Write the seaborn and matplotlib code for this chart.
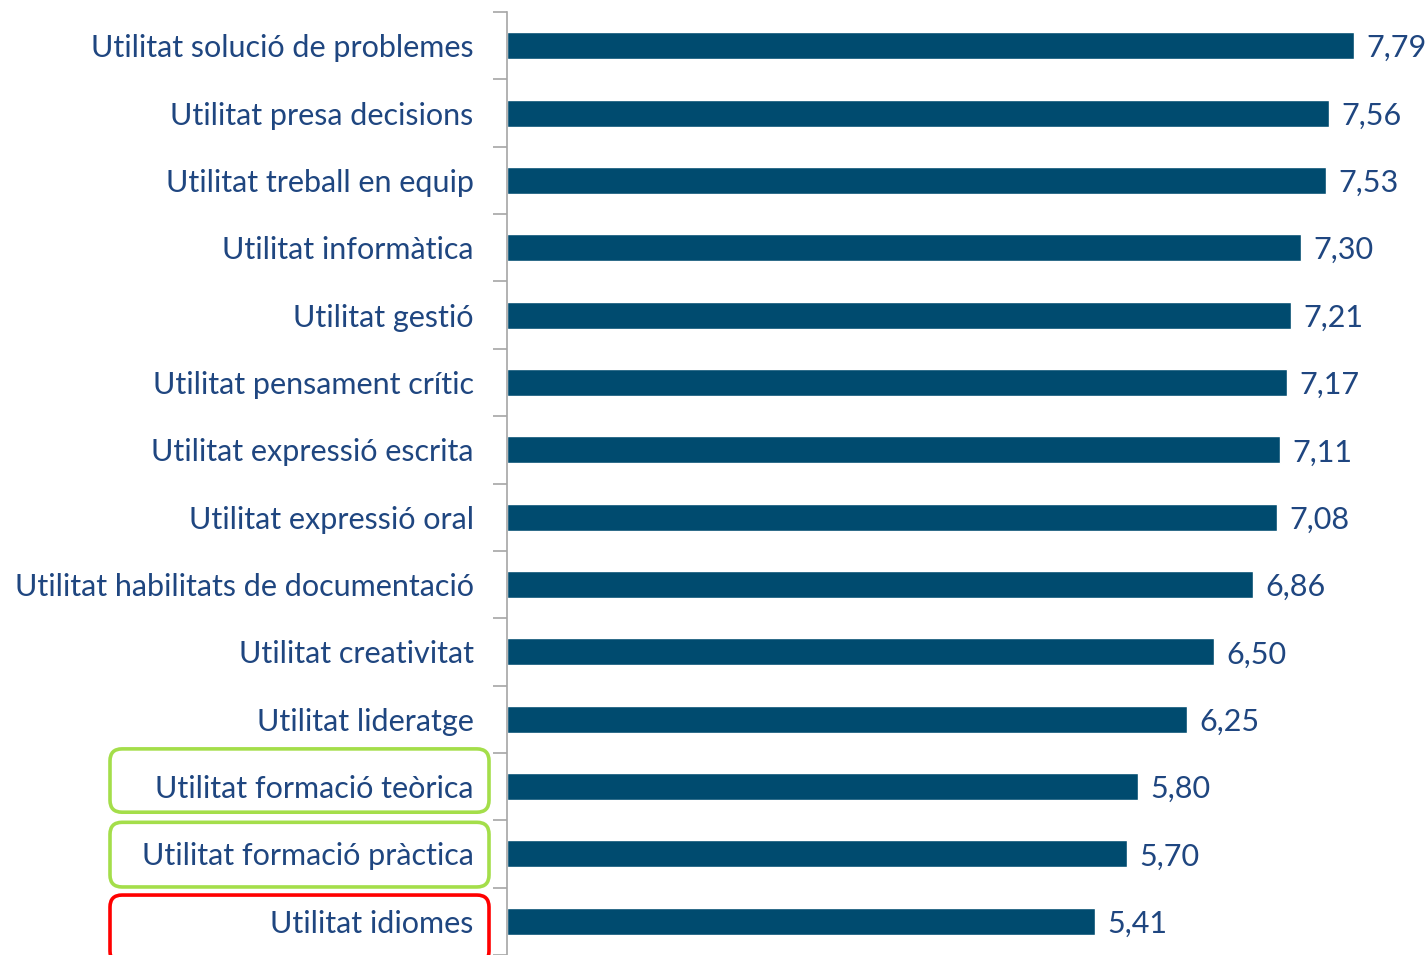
import matplotlib
matplotlib.use("Agg")
import matplotlib.pyplot as plt
import seaborn as sns
import pandas as pd
from matplotlib.patches import FancyBboxPatch
from matplotlib.transforms import IdentityTransform

# dades
categories = [
    "Utilitat solució de problemes",
    "Utilitat presa decisions",
    "Utilitat treball en equip",
    "Utilitat informàtica",
    "Utilitat gestió",
    "Utilitat pensament crític",
    "Utilitat expressió escrita",
    "Utilitat expressió oral",
    "Utilitat habilitats de documentació",
    "Utilitat creativitat",
    "Utilitat lideratge",
    "Utilitat formació teòrica",
    "Utilitat formació pràctica",
    "Utilitat idiomes",
]
values = [7.79, 7.56, 7.53, 7.30, 7.21, 7.17, 7.11, 7.08, 6.86, 6.50, 6.25, 5.80, 5.70, 5.41]

# etiquetes destacades
highlight_cats = ["Utilitat formació teòrica", "Utilitat formació pràctica", "Utilitat idiomes"]
highlight_colors = ["#A4DE4A", "#A4DE4A", "#FF0000"]

df = pd.DataFrame({"cat": categories, "val": values})

bar_color = "#004B6F"
text_color = "#1F4680"
grey = "#A6A6A6"

sns.set_theme(style="white")
plt.rcParams["font.family"] = ["Lato", "DejaVu Sans"]

fig = plt.figure(figsize=(14.27, 9.55), dpi=100)
ax = fig.add_axes([507 / 1427, 0.0, 1 - 507 / 1427, 1 - 12 / 955])

sns.barplot(data=df, y="cat", x="val", color=bar_color, width=0.4,
            saturation=1, orient="h", ax=ax)

ax.set_xlim(0, 8.46)
ax.set_ylim(len(categories) - 0.5, -0.5)
ax.set_xlabel("")
ax.set_ylabel("")
ax.set_xticks([])

# etiquetes i marques de l'eix
ax.set_yticks([i - 0.5 for i in range(len(categories) + 1)], minor=True)
ax.tick_params(axis="y", which="major", left=False, length=0, pad=24,
               labelsize=22, labelcolor=text_color)
ax.tick_params(axis="y", which="minor", left=True, length=10, width=1.2, color=grey)

for s in ["top", "right", "bottom"]:
    ax.spines[s].set_visible(False)
ax.spines["left"].set_color(grey)
ax.spines["left"].set_linewidth(1.2)

# valors amb coma decimal
txts = ax.bar_label(ax.containers[0], labels=[f"{v:.2f}".replace(".", ",") for v in values],
                    padding=9, fontsize=22, color=text_color)
for t in txts:
    t.set_va("center_baseline")

# requadres arrodonits al voltant d'algunes etiquetes
fig.canvas.draw()
x0, x1 = 110, 489
offsets = {"Utilitat formació teòrica": (-0.56, 0.38),
           "Utilitat formació pràctica": (-0.47, 0.49),
           "Utilitat idiomes": (-0.39, 0.62)}
for cat, col in zip(highlight_cats, highlight_colors):
    i = categories.index(cat)
    top, bot = offsets[cat]
    y_hi = ax.transData.transform((0, i + top))[1]
    y_lo = ax.transData.transform((0, i + bot))[1]
    box = FancyBboxPatch((x0, y_lo), x1 - x0, y_hi - y_lo,
                         boxstyle="round,pad=0,rounding_size=12",
                         transform=IdentityTransform(), fill=False,
                         edgecolor=col, linewidth=2.6, clip_on=False)
    fig.patches.append(box)

fig.savefig("out.png", dpi=100)
